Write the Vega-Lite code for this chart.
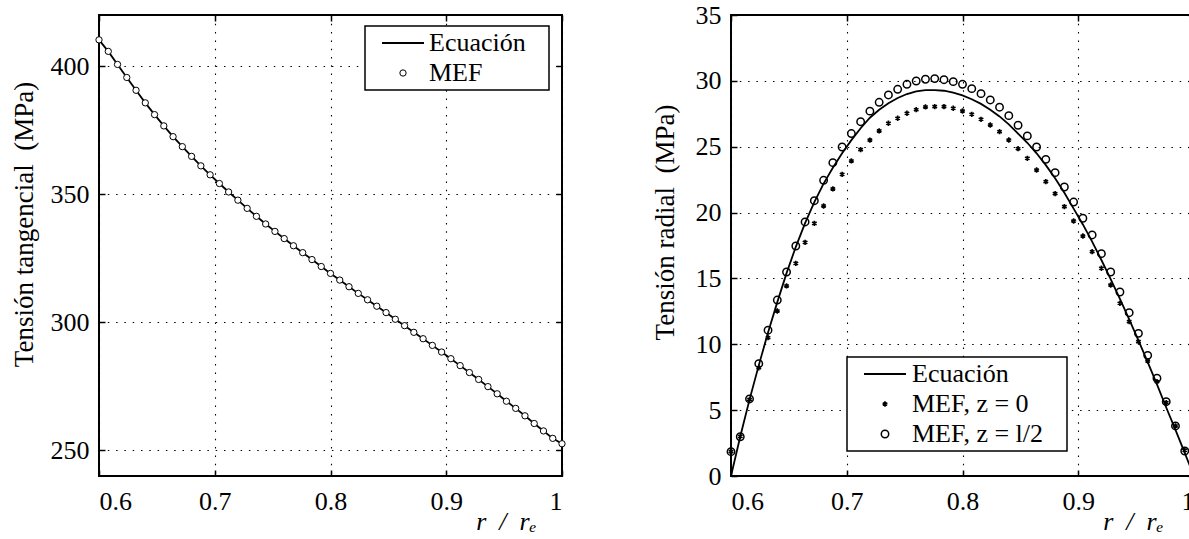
{
  "$schema": "https://vega.github.io/schema/vega-lite/v6.json",
  "padding": {"left": 9, "top": 1, "right": 5, "bottom": 5},
  "bounds": "flush",
  "spacing": 169,
  "config": {
    "font": "Liberation Serif",
    "view": {"stroke": "black", "strokeWidth": 2},
    "axis": {
      "labelFont": "Liberation Serif", "labelFontSize": 26, "labelColor": "black",
      "titleFont": "Liberation Serif", "titleFontSize": 27, "titleFontWeight": "normal", "titleColor": "black",
      "domain": false, "ticks": true, "tickColor": "black", "tickWidth": 1.5, "tickSize": -6,
      "gridColor": "black", "gridOpacity": 1, "gridWidth": 1.1, "gridDash": [1.5, 6.8],
      "labelOverlap": false
    },
    "legend": {
      "labelFont": "Liberation Serif", "labelFontSize": 26, "labelColor": "black",
      "strokeColor": "black", "strokeWidth": 1.5, "fillColor": "white",
      "padding": 4, "rowPadding": 4, "labelLimit": 0, "symbolStrokeColor": "black"
    }
  },
  "datasets": {
    "tangencial": [
      {"r": 0.600, "s": 410.3, "serie": "MEF"}, {"r": 0.608, "s": 405.8, "serie": "MEF"}, {"r": 0.616, "s": 400.7, "serie": "MEF"},
      {"r": 0.624, "s": 395.6, "serie": "MEF"}, {"r": 0.632, "s": 390.6, "serie": "MEF"}, {"r": 0.640, "s": 385.7, "serie": "MEF"},
      {"r": 0.648, "s": 381.1, "serie": "MEF"}, {"r": 0.656, "s": 376.7, "serie": "MEF"}, {"r": 0.664, "s": 372.5, "serie": "MEF"},
      {"r": 0.672, "s": 368.6, "serie": "MEF"}, {"r": 0.680, "s": 364.8, "serie": "MEF"}, {"r": 0.688, "s": 361.1, "serie": "MEF"},
      {"r": 0.696, "s": 357.6, "serie": "MEF"}, {"r": 0.704, "s": 354.2, "serie": "MEF"}, {"r": 0.712, "s": 350.9, "serie": "MEF"},
      {"r": 0.720, "s": 347.7, "serie": "MEF"}, {"r": 0.728, "s": 344.5, "serie": "MEF"}, {"r": 0.736, "s": 341.4, "serie": "MEF"},
      {"r": 0.744, "s": 338.4, "serie": "MEF"}, {"r": 0.752, "s": 335.5, "serie": "MEF"}, {"r": 0.760, "s": 332.7, "serie": "MEF"},
      {"r": 0.768, "s": 329.9, "serie": "MEF"}, {"r": 0.776, "s": 327.2, "serie": "MEF"}, {"r": 0.784, "s": 324.5, "serie": "MEF"},
      {"r": 0.792, "s": 321.8, "serie": "MEF"}, {"r": 0.800, "s": 319.1, "serie": "MEF"}, {"r": 0.808, "s": 316.5, "serie": "MEF"},
      {"r": 0.816, "s": 313.9, "serie": "MEF"}, {"r": 0.824, "s": 311.3, "serie": "MEF"}, {"r": 0.832, "s": 308.8, "serie": "MEF"},
      {"r": 0.840, "s": 306.3, "serie": "MEF"}, {"r": 0.848, "s": 303.8, "serie": "MEF"}, {"r": 0.856, "s": 301.2, "serie": "MEF"},
      {"r": 0.864, "s": 298.7, "serie": "MEF"}, {"r": 0.872, "s": 296.1, "serie": "MEF"}, {"r": 0.880, "s": 293.6, "serie": "MEF"},
      {"r": 0.888, "s": 291.0, "serie": "MEF"}, {"r": 0.896, "s": 288.4, "serie": "MEF"}, {"r": 0.904, "s": 285.8, "serie": "MEF"},
      {"r": 0.912, "s": 283.1, "serie": "MEF"}, {"r": 0.920, "s": 280.4, "serie": "MEF"}, {"r": 0.928, "s": 277.7, "serie": "MEF"},
      {"r": 0.936, "s": 274.9, "serie": "MEF"}, {"r": 0.944, "s": 272.1, "serie": "MEF"}, {"r": 0.952, "s": 269.2, "serie": "MEF"},
      {"r": 0.960, "s": 266.4, "serie": "MEF"}, {"r": 0.968, "s": 263.5, "serie": "MEF"}, {"r": 0.976, "s": 260.5, "serie": "MEF"},
      {"r": 0.984, "s": 257.6, "serie": "MEF"}, {"r": 0.992, "s": 254.7, "serie": "MEF"}, {"r": 1.000, "s": 252.6, "serie": "MEF"}
    ],
    "radial_eq": [
      {"r": 0.600, "s": 0.0}, {"r": 0.608, "s": 3.0}, {"r": 0.616, "s": 5.8}, {"r": 0.624, "s": 8.4}, {"r": 0.632, "s": 10.9},
      {"r": 0.640, "s": 13.2}, {"r": 0.648, "s": 15.4}, {"r": 0.656, "s": 17.4}, {"r": 0.664, "s": 19.2}, {"r": 0.672, "s": 20.8},
      {"r": 0.680, "s": 22.2}, {"r": 0.688, "s": 23.4}, {"r": 0.696, "s": 24.5}, {"r": 0.704, "s": 25.5}, {"r": 0.712, "s": 26.4},
      {"r": 0.720, "s": 27.2}, {"r": 0.728, "s": 27.8}, {"r": 0.736, "s": 28.3}, {"r": 0.744, "s": 28.7}, {"r": 0.752, "s": 29.0},
      {"r": 0.760, "s": 29.2}, {"r": 0.768, "s": 29.3}, {"r": 0.776, "s": 29.3}, {"r": 0.784, "s": 29.25}, {"r": 0.792, "s": 29.1},
      {"r": 0.800, "s": 28.9}, {"r": 0.808, "s": 28.6}, {"r": 0.816, "s": 28.25}, {"r": 0.824, "s": 27.8}, {"r": 0.832, "s": 27.3},
      {"r": 0.840, "s": 26.7}, {"r": 0.848, "s": 26.0}, {"r": 0.856, "s": 25.3}, {"r": 0.864, "s": 24.5}, {"r": 0.872, "s": 23.6},
      {"r": 0.880, "s": 22.6}, {"r": 0.888, "s": 21.5}, {"r": 0.896, "s": 20.3}, {"r": 0.904, "s": 19.1}, {"r": 0.912, "s": 17.8},
      {"r": 0.920, "s": 16.4}, {"r": 0.928, "s": 14.95}, {"r": 0.936, "s": 13.45}, {"r": 0.944, "s": 11.9}, {"r": 0.952, "s": 10.3},
      {"r": 0.960, "s": 8.65}, {"r": 0.968, "s": 6.95}, {"r": 0.976, "s": 5.2}, {"r": 0.984, "s": 3.5}, {"r": 0.992, "s": 1.75},
      {"r": 1.000, "s": 0.0}
    ],
    "radial_mef": [
      {"r": 0.600, "s": 1.85, "serie": "MEF, z = 0"}, {"r": 0.608, "s": 3.0, "serie": "MEF, z = 0"}, {"r": 0.616, "s": 5.8, "serie": "MEF, z = 0"},
      {"r": 0.624, "s": 8.22, "serie": "MEF, z = 0"}, {"r": 0.632, "s": 10.5, "serie": "MEF, z = 0"}, {"r": 0.640, "s": 12.53, "serie": "MEF, z = 0"},
      {"r": 0.648, "s": 14.43, "serie": "MEF, z = 0"}, {"r": 0.656, "s": 16.14, "serie": "MEF, z = 0"}, {"r": 0.664, "s": 17.74, "serie": "MEF, z = 0"},
      {"r": 0.672, "s": 19.18, "serie": "MEF, z = 0"}, {"r": 0.680, "s": 20.5, "serie": "MEF, z = 0"}, {"r": 0.688, "s": 21.8, "serie": "MEF, z = 0"},
      {"r": 0.696, "s": 22.9, "serie": "MEF, z = 0"}, {"r": 0.704, "s": 23.92, "serie": "MEF, z = 0"}, {"r": 0.712, "s": 24.78, "serie": "MEF, z = 0"},
      {"r": 0.720, "s": 25.5, "serie": "MEF, z = 0"}, {"r": 0.728, "s": 26.2, "serie": "MEF, z = 0"}, {"r": 0.736, "s": 26.78, "serie": "MEF, z = 0"},
      {"r": 0.744, "s": 27.16, "serie": "MEF, z = 0"}, {"r": 0.752, "s": 27.54, "serie": "MEF, z = 0"}, {"r": 0.760, "s": 27.81, "serie": "MEF, z = 0"},
      {"r": 0.768, "s": 28.02, "serie": "MEF, z = 0"}, {"r": 0.776, "s": 28.04, "serie": "MEF, z = 0"}, {"r": 0.784, "s": 28.04, "serie": "MEF, z = 0"},
      {"r": 0.792, "s": 27.92, "serie": "MEF, z = 0"}, {"r": 0.800, "s": 27.71, "serie": "MEF, z = 0"}, {"r": 0.808, "s": 27.46, "serie": "MEF, z = 0"},
      {"r": 0.816, "s": 27.08, "serie": "MEF, z = 0"}, {"r": 0.824, "s": 26.65, "serie": "MEF, z = 0"}, {"r": 0.832, "s": 26.14, "serie": "MEF, z = 0"},
      {"r": 0.840, "s": 25.51, "serie": "MEF, z = 0"}, {"r": 0.848, "s": 24.85, "serie": "MEF, z = 0"}, {"r": 0.856, "s": 24.12, "serie": "MEF, z = 0"},
      {"r": 0.864, "s": 23.23, "serie": "MEF, z = 0"}, {"r": 0.872, "s": 22.35, "serie": "MEF, z = 0"}, {"r": 0.880, "s": 21.44, "serie": "MEF, z = 0"},
      {"r": 0.888, "s": 20.45, "serie": "MEF, z = 0"}, {"r": 0.896, "s": 19.36, "serie": "MEF, z = 0"}, {"r": 0.904, "s": 18.22, "serie": "MEF, z = 0"},
      {"r": 0.912, "s": 17.03, "serie": "MEF, z = 0"}, {"r": 0.920, "s": 15.77, "serie": "MEF, z = 0"}, {"r": 0.928, "s": 14.50, "serie": "MEF, z = 0"},
      {"r": 0.936, "s": 13.11, "serie": "MEF, z = 0"}, {"r": 0.944, "s": 11.72, "serie": "MEF, z = 0"}, {"r": 0.952, "s": 10.20, "serie": "MEF, z = 0"},
      {"r": 0.960, "s": 8.73, "serie": "MEF, z = 0"}, {"r": 0.968, "s": 7.16, "serie": "MEF, z = 0"}, {"r": 0.976, "s": 5.57, "serie": "MEF, z = 0"},
      {"r": 0.984, "s": 3.80, "serie": "MEF, z = 0"}, {"r": 0.992, "s": 1.95, "serie": "MEF, z = 0"},
      {"r": 0.600, "s": 1.85, "serie": "MEF, z = l/2"}, {"r": 0.608, "s": 2.98, "serie": "MEF, z = l/2"}, {"r": 0.616, "s": 5.85, "serie": "MEF, z = l/2"},
      {"r": 0.624, "s": 8.53, "serie": "MEF, z = l/2"}, {"r": 0.632, "s": 11.07, "serie": "MEF, z = l/2"}, {"r": 0.640, "s": 13.36, "serie": "MEF, z = l/2"},
      {"r": 0.648, "s": 15.49, "serie": "MEF, z = l/2"}, {"r": 0.656, "s": 17.46, "serie": "MEF, z = l/2"}, {"r": 0.664, "s": 19.29, "serie": "MEF, z = l/2"},
      {"r": 0.672, "s": 20.9, "serie": "MEF, z = l/2"}, {"r": 0.680, "s": 22.45, "serie": "MEF, z = l/2"}, {"r": 0.688, "s": 23.79, "serie": "MEF, z = l/2"},
      {"r": 0.696, "s": 24.98, "serie": "MEF, z = l/2"}, {"r": 0.704, "s": 26.0, "serie": "MEF, z = l/2"}, {"r": 0.712, "s": 26.9, "serie": "MEF, z = l/2"},
      {"r": 0.720, "s": 27.7, "serie": "MEF, z = l/2"}, {"r": 0.728, "s": 28.37, "serie": "MEF, z = l/2"}, {"r": 0.736, "s": 28.93, "serie": "MEF, z = l/2"},
      {"r": 0.744, "s": 29.36, "serie": "MEF, z = l/2"}, {"r": 0.752, "s": 29.74, "serie": "MEF, z = l/2"}, {"r": 0.760, "s": 29.99, "serie": "MEF, z = l/2"},
      {"r": 0.768, "s": 30.12, "serie": "MEF, z = l/2"}, {"r": 0.776, "s": 30.17, "serie": "MEF, z = l/2"}, {"r": 0.784, "s": 30.09, "serie": "MEF, z = l/2"},
      {"r": 0.792, "s": 29.94, "serie": "MEF, z = l/2"}, {"r": 0.800, "s": 29.74, "serie": "MEF, z = l/2"}, {"r": 0.808, "s": 29.41, "serie": "MEF, z = l/2"},
      {"r": 0.816, "s": 29.03, "serie": "MEF, z = l/2"}, {"r": 0.824, "s": 28.55, "serie": "MEF, z = l/2"}, {"r": 0.832, "s": 28.0, "serie": "MEF, z = l/2"},
      {"r": 0.840, "s": 27.36, "serie": "MEF, z = l/2"}, {"r": 0.848, "s": 26.63, "serie": "MEF, z = l/2"}, {"r": 0.856, "s": 25.82, "serie": "MEF, z = l/2"},
      {"r": 0.864, "s": 24.98, "serie": "MEF, z = l/2"}, {"r": 0.872, "s": 24.04, "serie": "MEF, z = l/2"}, {"r": 0.880, "s": 23.03, "serie": "MEF, z = l/2"},
      {"r": 0.888, "s": 21.94, "serie": "MEF, z = l/2"}, {"r": 0.896, "s": 20.80, "serie": "MEF, z = l/2"}, {"r": 0.904, "s": 19.57, "serie": "MEF, z = l/2"},
      {"r": 0.912, "s": 18.30, "serie": "MEF, z = l/2"}, {"r": 0.920, "s": 16.88, "serie": "MEF, z = l/2"}, {"r": 0.928, "s": 15.49, "serie": "MEF, z = l/2"},
      {"r": 0.936, "s": 13.97, "serie": "MEF, z = l/2"}, {"r": 0.944, "s": 12.40, "serie": "MEF, z = l/2"}, {"r": 0.952, "s": 10.83, "serie": "MEF, z = l/2"},
      {"r": 0.960, "s": 9.16, "serie": "MEF, z = l/2"}, {"r": 0.968, "s": 7.42, "serie": "MEF, z = l/2"}, {"r": 0.976, "s": 5.64, "serie": "MEF, z = l/2"},
      {"r": 0.984, "s": 3.80, "serie": "MEF, z = l/2"}, {"r": 0.992, "s": 1.90, "serie": "MEF, z = l/2"}
    ]
  },
  "resolve": {"scale": {"shape": "independent", "strokeWidth": "independent"}, "legend": {"shape": "independent", "strokeWidth": "independent"}},
  "hconcat": [
    {
      "width": 463,
      "height": 461,
      "resolve": {"axis": {"x": "independent", "y": "independent"}},
      "layer": [
        {
          "data": {"name": "tangencial"},
          "mark": {"type": "line", "color": "black", "strokeWidth": 1.8},
          "encoding": {
            "x": {"field": "r", "type": "quantitative", "scale": {"domain": [0.6, 1.0], "nice": false, "zero": false},
              "axis": {"orient": "bottom", "values": [0.6, 0.7, 0.8, 0.9, 1.0], "format": ".1~f", "grid": true, "labelPadding": 18,
                "title": "r\u2002/\u2002rₑ", "titleFontStyle": "italic", "titleFontSize": 26, "titleAlign": "right", "titleX": 437, "titleY": 53,
                "titleBaseline": "alphabetic"}},
            "y": {"field": "s", "type": "quantitative", "scale": {"domain": [240, 420], "nice": false, "zero": false},
              "axis": {"orient": "left", "values": [250, 300, 350, 400], "grid": true, "labelPadding": 16,
                "title": "Tensión tangencial\u00a0 (MPa)", "titleAngle": 270, "titleX": -67, "titleY": 209, "titleAlign": "center", "titleBaseline": "alphabetic"}}
          }
        },
        {
          "data": {"name": "tangencial"},
          "mark": {"type": "point", "shape": "circle", "filled": true, "color": "white", "opacity": 1, "size": 40},
          "encoding": {
            "x": {"field": "r", "type": "quantitative", "axis": null},
            "y": {"field": "s", "type": "quantitative", "axis": null}
          }
        },
        {
          "data": {"name": "tangencial"},
          "mark": {"type": "point", "filled": false, "color": "black", "opacity": 1, "size": 40},
          "encoding": {
            "x": {"field": "r", "type": "quantitative",
              "axis": {"orient": "top", "values": [0.6, 0.7, 0.8, 0.9, 1.0], "labels": false, "grid": false, "title": null}},
            "y": {"field": "s", "type": "quantitative",
              "axis": {"orient": "right", "values": [250, 300, 350, 400], "labels": false, "grid": false, "title": null}},
            "shape": {"field": "serie", "type": "nominal",
              "scale": {"domain": ["Ecuación", "MEF"], "range": ["M-6.64,0L6.64,0", "circle"]},
              "legend": {"title": null, "orient": "none", "legendX": 266, "legendY": 11, "symbolSize": 40, "symbolOffset": 21, "labelOffset": 13,
                "labelExpr": "datum.label + '\u2800'"}},
            "strokeWidth": {"field": "serie", "type": "nominal",
              "scale": {"domain": ["Ecuación", "MEF"], "range": [1.8, 1]},
              "legend": {"title": null, "orient": "none", "legendX": 266, "legendY": 11, "symbolSize": 40, "symbolOffset": 21, "labelOffset": 13,
                "labelExpr": "datum.label + '\u2800'"}}
          }
        }
      ]
    },
    {
      "width": 463,
      "height": 461,
      "resolve": {"axis": {"x": "independent", "y": "independent"}},
      "layer": [
        {
          "data": {"name": "radial_eq"},
          "mark": {"type": "line", "color": "black", "strokeWidth": 1.8},
          "encoding": {
            "x": {"field": "r", "type": "quantitative", "scale": {"domain": [0.6, 1.0], "nice": false, "zero": false},
              "axis": {"orient": "bottom", "values": [0.6, 0.7, 0.8, 0.9, 1.0], "format": ".1~f", "grid": true, "labelPadding": 18,
                "title": "r\u2002/\u2002rₑ", "titleFontStyle": "italic", "titleFontSize": 26, "titleAlign": "right", "titleX": 432, "titleY": 53,
                "titleBaseline": "alphabetic"}},
            "y": {"field": "s", "type": "quantitative", "scale": {"domain": [0, 35], "nice": false, "zero": false},
              "axis": {"orient": "left", "values": [0, 5, 10, 15, 20, 25, 30, 35], "grid": true, "labelPadding": 16,
                "title": "Tensión radial\u00a0 (MPa)", "titleAngle": 270, "titleX": -58, "titleY": 207, "titleAlign": "center", "titleBaseline": "alphabetic"}}
          }
        },
        {
          "data": {"name": "radial_mef"},
          "mark": {"type": "point", "filled": false, "color": "black", "opacity": 1, "size": 55},
          "encoding": {
            "x": {"field": "r", "type": "quantitative",
              "axis": {"orient": "top", "values": [0.6, 0.7, 0.8, 0.9, 1.0], "labels": false, "grid": false, "title": null}},
            "y": {"field": "s", "type": "quantitative",
              "axis": {"orient": "right", "values": [0, 5, 10, 15, 20, 25, 30, 35], "labels": false, "grid": false, "title": null}},
            "shape": {"field": "serie", "type": "nominal",
              "scale": {"domain": ["Ecuación", "MEF, z = 0", "MEF, z = l/2"],
                "range": ["M-5.66,0L5.66,0", "M0,-0.72L0,0.72M-0.62,-0.36L0.62,0.36M-0.62,0.36L0.62,-0.36", "circle"]},
              "legend": {"title": null, "orient": "none", "legendX": 116, "legendY": 342, "symbolSize": 55, "symbolOffset": 21, "labelOffset": 14,
                "labelExpr": "datum.label + '\u2800'"}},
            "strokeWidth": {"field": "serie", "type": "nominal",
              "scale": {"domain": ["Ecuación", "MEF, z = 0", "MEF, z = l/2"], "range": [1.8, 1.5, 1]},
              "legend": {"title": null, "orient": "none", "legendX": 116, "legendY": 342, "symbolSize": 55, "symbolOffset": 21, "labelOffset": 14,
                "labelExpr": "datum.label + '\u2800'"}}
          }
        }
      ]
    }
  ]
}
